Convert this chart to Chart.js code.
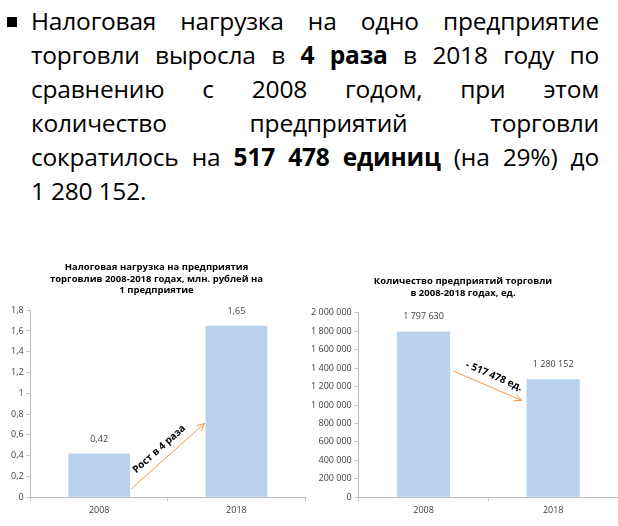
<!DOCTYPE html>
<html><head><meta charset="utf-8">
<script src="https://cdn.jsdelivr.net/npm/chart.js@4"></script>
<style>
body{margin:0;width:618px;height:526px;background:#fff;position:relative;overflow:hidden;font-family:"Open Sans","Liberation Sans",sans-serif}
#txt{position:absolute;left:31px;top:4px;width:568px;font-size:24.5px;line-height:34px;color:#000;font-family:"Open Sans",sans-serif;letter-spacing:-0.2px}
#txt div{text-align:justify;text-align-last:justify;white-space:nowrap}
#txt div.last{text-align-last:left}
#bul{position:absolute;left:7px;top:17px;width:10px;height:10px;background:#000}
#c1{position:absolute;left:0;top:256px}
#c2{position:absolute;left:308px;top:256px}
</style></head><body>
<div id="bul"></div>
<div id="txt">
<div>Налоговая нагрузка на одно предприятие</div>
<div>торговли выросла в <b>4 раза</b> в 2018 году по</div>
<div>сравнению с 2008 годом, при этом</div>
<div>количество предприятий торговли</div>
<div>сократилось на <b>517 478 единиц</b> (на 29%) до</div>
<div class="last">1 280 152.</div>
</div>
<canvas id="c1" width="310" height="270"></canvas>
<canvas id="c2" width="310" height="270"></canvas>
<script>
const categories=["2008","2018"];
const taxValues=[0.42,1.65];
const taxLabels=["0,42","1,65"];
const countValues=[1797630,1280152];
const countLabels=["1 797 630","1 280 152"];
const F='"Open Sans",sans-serif';
const fmtComma=v=>String(Math.round(v*10)/10).replace('.',',');
const fmtSpace=v=>v.toString().replace(/\B(?=(\d{3})+(?!\d))/g,' ');

function annot(labels,arrow){return{id:'annot',afterDatasetsDraw(ch){
  const c=ch.ctx,m=ch.getDatasetMeta(0).data,y=ch.scales.y;
  c.save();c.font='9px '+F;c.fillStyle='#404040';c.textAlign='center';
  m.forEach((b,i)=>c.fillText(labels[i],b.x,b.y-12));
  const x1=m[0].x+m[0].width/2+arrow.dx1,y1=y.getPixelForValue(arrow.v1);
  const x2=m[1].x-m[1].width/2+arrow.dx2,y2=y.getPixelForValue(arrow.v2);
  c.strokeStyle='#f79646';c.lineWidth=1;c.beginPath();c.moveTo(x1,y1);c.lineTo(x2,y2);c.stroke();
  const a=Math.atan2(y2-y1,x2-x1);
  c.beginPath();c.moveTo(x2-8*Math.cos(a-0.45),y2-8*Math.sin(a-0.45));c.lineTo(x2,y2);c.lineTo(x2-8*Math.cos(a+0.45),y2-8*Math.sin(a+0.45));c.stroke();
  c.translate((x1+x2)/2+arrow.tx,(y1+y2)/2+arrow.ty);c.rotate(a);
  c.font='bold 10px '+F;c.fillStyle='#000';c.fillText(arrow.text,0,-4);
  c.restore();}}}

function mk(id,vals,labels,max,step,fmt,pad,title,bp,arrow){
 new Chart(document.getElementById(id),{type:'bar',
  data:{labels:categories,datasets:[{data:vals,backgroundColor:'#b9d1ea',barPercentage:bp,categoryPercentage:1}]},
  options:{responsive:false,animation:false,events:[],
   layout:{padding:pad},
   plugins:{legend:{display:false},tooltip:{enabled:false},
    title:{display:true,text:title,font:{family:F,size:9.5,weight:'bold'},color:'#000',padding:{top:6,bottom:14},lineHeight:1.6}},
   scales:{
    x:{grid:{display:true,offset:true,drawOnChartArea:false,tickLength:4,color:'#bfbfbf'},border:{color:'#bfbfbf'},
       ticks:{font:{family:F,size:9},color:'#404040',padding:4}},
    y:{min:0,max:max,grid:{display:true,drawOnChartArea:false,tickLength:4,color:'#bfbfbf'},border:{color:'#bfbfbf'},
       ticks:{stepSize:step,font:{family:F,size:9},color:'#404040',callback:fmt,padding:3}}}},
  plugins:[annot(labels,arrow)]});
}
mk('c1',taxValues,taxLabels,1.8,0.2,fmtComma,{left:8,right:5,bottom:6},
 ['Налоговая нагрузка на предприятия','торговлив 2008-2018 годах, млн. рублей на','1 предприятие'],0.45,
 {dx1:1,v1:0.08,dx2:-1,v2:0.71,text:'Рост в 4 раза',tx:-4,ty:-2});
mk('c2',countValues,countLabels,2000000,200000,fmtSpace,{left:0,right:0,bottom:6,top:14},
 ['Количество предприятий торговли','в 2008-2018 годах, ед.'],0.41,
 {dx1:3,v1:1370000,dx2:-5,v2:1050000,text:'- 517 478 ед.',tx:4,ty:-3});
</script>
</body></html>
